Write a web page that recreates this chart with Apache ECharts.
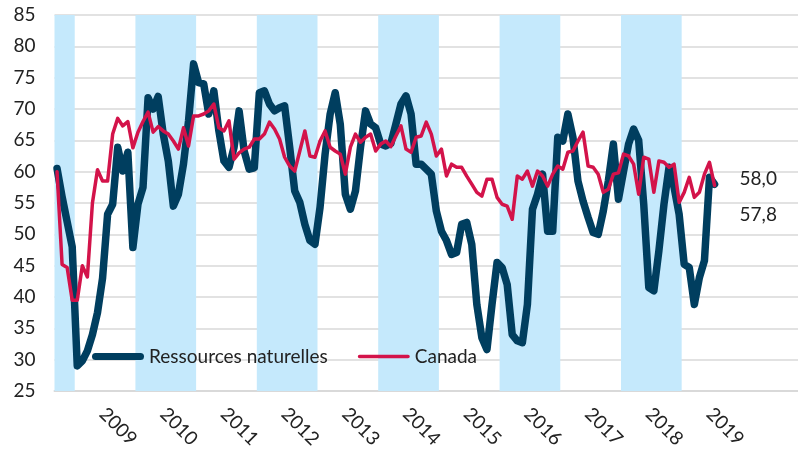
<!DOCTYPE html>
<html><head><meta charset="utf-8">
<script src="https://cdn.jsdelivr.net/npm/echarts@6/dist/echarts.min.js"></script>
<style>html,body{margin:0;padding:0;background:#fff}#c{width:798px;height:451px}</style>
</head><body><div id="c"></div>
<script>
// Monthly series, first value = September 2008
const startYear = 2008, startMonth = 9, monthCount = 147;
const bandYears = [2008, 2010, 2012, 2014, 2016, 2018];
const yearLabels = ['2009','2010','2011','2012','2013','2014','2015','2016','2017','2018','2019'];
const ressources = [
  60.5,56,52,48,29,29.8,31.4,34,37.5,43,
  53.2,54.8,63.9,60.1,63.1,47.9,54.8,57.5,71.8,70,
  72,66,61.7,54.5,56.4,61.2,68.1,77.2,74.2,74,
  69.2,72.9,66.5,61.7,60.7,63.9,69.7,63.3,60.4,60.6,
  72.6,72.9,70.8,69.7,70.2,70.5,63.9,56.9,55.1,51.6,
  49,48.4,54.3,62.8,69.2,72.6,67.6,56.4,54,56.9,
  63.9,69.7,67.6,67,64.4,64.1,64.5,67.6,70.8,72.1,
  69.2,61.2,61.2,60.4,59.6,53.7,50.5,49,46.8,47.1,
  51.6,51.9,48.4,38.8,33.5,31.6,38.8,45.5,44.7,42,
  34,33,32.7,38.8,54,56.4,59.6,50.5,50.5,65.5,
  64.9,69.2,65.5,58.5,55.3,52.7,50.3,50,53.7,58.5,
  64.4,55.6,60,64.4,66.8,65,54.8,41.5,41,47.4,
  54.8,60.7,57.5,53.2,45.2,44.7,38.8,43.1,45.8,59.1,
  58.0
];
const canada = [
  60,45.2,44.7,39.5,39.5,45,43.2,55,60.3,58.5,
  58.5,66,68.5,67.3,68,63.8,66.3,68,69.5,66.3,
  67.2,66.5,66,64.9,63.6,67,64.1,68.9,68.9,69.2,
  69.7,70.8,67,66.5,68.1,62,63,63.6,63.9,65.2,
  65.2,66,67.9,66.8,65.2,62.3,60.9,60.1,63.3,66.5,
  62.5,62.3,64.9,66.5,63.9,63.3,62.8,59.6,63.9,66,
  64.7,65.5,66,63.3,64.4,64.9,64,65.7,67.3,63.6,
  63.1,65.5,65.7,67.9,66,62.5,63.6,59.3,61.2,60.7,
  60.7,59.3,58,56.7,56.1,58.8,58.8,55.9,54.8,54.5,
  52.4,59.3,58.8,60.1,57.7,60.1,59.3,57.7,59.6,60.9,
  60.4,63.1,63.3,64.9,66.3,60.9,60.7,59.6,56.7,57.2,
  59.6,59.8,62.8,62.5,61.2,56.4,62.3,62,56.7,61.7,
  61.5,60.7,61.2,55.1,56.7,59.1,55.9,56.7,59.6,61.5,
  57.8
];

const categories = [];
for (let k = 0; k < monthCount; k++) {
  const m0 = startMonth - 1 + k;
  const y = startYear + Math.floor(m0 / 12);
  const m = m0 % 12 + 1;
  categories.push(y + '-' + String(m).padStart(2, '0'));
}
// shaded years: first and last month index of each
const bandData = bandYears.map(y => {
  const idx = categories.map((c, i) => c.startsWith(y + '-') ? i : -1).filter(i => i >= 0);
  return [idx[0], idx[idx.length - 1]];
});
const isLabel = c => c.slice(5) === '06' && yearLabels.includes(c.slice(0, 4));
const fmt = v => v.toFixed(1).replace('.', ',');

const FONT = 'Lato';
const TXT = '#222222';
const DARK = '#003E5F', RED = '#D3134A', BAND = '#C5E9FC';
const chart = echarts.init(document.getElementById('c'), null, {renderer: 'canvas'});
chart.setOption({
  animation: false,
  textStyle: {fontFamily: FONT},
  grid: {left: 54.5, right: -2, top: 15, bottom: 59.3, containLabel: false},
  legend: {
    left: 92, top: 347, padding: 0, itemWidth: 52, itemHeight: 14, itemGap: 30,
    textStyle: {fontSize: 19, color: TXT, fontFamily: FONT},
    data: [
      {name: 'Ressources naturelles', icon: 'path://M3.5,0H48.5A3.5,3.5 0 0 1 48.5,7H3.5A3.5,3.5 0 0 1 3.5,0Z'},
      {name: 'Canada', icon: 'path://M1.8,0H50.2A1.8,1.8 0 0 1 50.2,3.6H1.8A1.8,1.8 0 0 1 1.8,0Z'}
    ]
  },
  xAxis: {
    type: 'category', data: categories, boundaryGap: true,
    axisTick: {show: false},
    axisLine: {lineStyle: {color: '#d9d9d9', width: 2}},
    splitLine: {show: false},
    axisLabel: {
      interval: (i, v) => isLabel(v),
      formatter: v => v.slice(0, 4),
      rotate: -45, fontSize: 19, color: TXT, margin: 20, fontFamily: FONT
    }
  },
  yAxis: {
    type: 'value', min: 25, max: 85, interval: 5,
    axisLabel: {fontSize: 19, color: TXT, margin: 19, fontFamily: FONT},
    axisLine: {show: false}, axisTick: {show: false},
    splitLine: {lineStyle: {color: '#d9d9d9', width: 1.5}}
  },
  series: [
    {type: 'custom', data: bandData, silent: true, z: 1,
     encode: {x: [0, 1]},
     renderItem: (params, api) => {
       const cs = params.coordSys;
       const w = api.size([1, 0])[0];
       const x0 = api.coord([api.value(0), 25])[0] - w / 2;
       const x1 = api.coord([api.value(1), 25])[0] + w / 2;
       return {type: 'rect', shape: {x: x0, y: cs.y, width: x1 - x0, height: cs.height},
               style: {fill: BAND}};
     }},
    {name: 'Ressources naturelles', type: 'line', data: ressources, z: 3,
     symbol: 'none', color: DARK, itemStyle: {color: DARK},
     lineStyle: {width: 7.5, color: DARK, cap: 'round', join: 'round'},
     endLabel: {show: true, formatter: p => fmt(p.value), offset: [17, -5],
                fontSize: 19, color: TXT, fontFamily: FONT}},
    {name: 'Canada', type: 'line', data: canada, z: 4,
     symbol: 'none', color: RED, itemStyle: {color: RED},
     lineStyle: {width: 3.5, color: RED, cap: 'round', join: 'round'},
     endLabel: {show: true, formatter: p => fmt(p.value), offset: [17, 29],
                fontSize: 19, color: TXT, fontFamily: FONT}}
  ]
});
</script></body></html>
